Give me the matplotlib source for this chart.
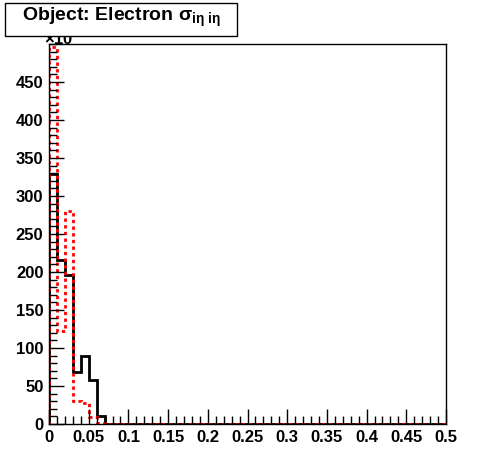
import numpy as np
import matplotlib.pyplot as plt
from matplotlib.ticker import MultipleLocator
from matplotlib.patches import Rectangle

plt.rcParams['font.family'] = ['Liberation Sans', 'DejaVu Sans']
plt.rcParams['font.weight'] = 'bold'
plt.rcParams['mathtext.fontset'] = 'custom'
plt.rcParams['mathtext.rm'] = 'Liberation Sans'
plt.rcParams['mathtext.it'] = 'Liberation Sans:italic'
plt.rcParams['mathtext.bf'] = 'Liberation Sans:bold'

# histogram contents (units of 10), 50 bins of width 0.01 on [0, 0.5]
bin_edges = np.linspace(0, 0.5, 51)
black_vals = [329, 216, 196, 68, 89, 58, 10] + [0] * 43
red_vals = [496, 122, 280, 30, 27, 9, 1] + [0] * 43

fig = plt.figure(figsize=(4.96, 4.72), dpi=100)
ax = fig.add_axes([49 / 496, 48 / 472, 397 / 496, 380 / 472])

ax.stairs(black_vals, bin_edges, color='black', lw=2)
ax.stairs(red_vals, bin_edges, color='red', lw=2, linestyle=(0, (1.2, 1.2)))

ax.set_xlim(0, 0.5)
ax.set_ylim(0, 500)

ax.xaxis.set_minor_locator(MultipleLocator(0.01))
ax.yaxis.set_minor_locator(MultipleLocator(10))
ax.set_xticks(np.arange(0, 0.501, 0.05))
ax.set_xticklabels(['0', '0.05', '0.1', '0.15', '0.2', '0.25', '0.3', '0.35', '0.4', '0.45', '0.5'])
ax.set_yticks(np.arange(0, 451, 50))
ax.tick_params(which='major', direction='in', length=11, width=1, labelsize=12, pad=4)
ax.tick_params(which='minor', direction='in', length=6, width=1)
for lab in ax.get_xticklabels() + ax.get_yticklabels():
    lab.set_fontweight('bold')
for s in ax.spines.values():
    s.set_linewidth(1)

# exponent label, its top partly hidden behind the title box like ROOT draws it
fig.text(44 / 496, 1 - 44 / 472, r'$\mathrm{\times}$' + '10', fontsize=12, fontweight='bold',
         va='baseline', ha='left', zorder=0)

# title box
fig.patches.append(Rectangle((5 / 496, 1 - 36 / 472), 232 / 496, 33 / 472,
                             transform=fig.transFigure, fill=True, facecolor='white',
                             edgecolor='black', lw=1, zorder=5))
fig.text(22 / 496, 1 - 21 / 472, r'Object: Electron $\mathrm{\sigma}_{\mathbf{i\eta\ i\eta}}$',
         fontsize=14, fontweight='bold', ha='left', va='baseline', zorder=6)

fig.savefig('out.png', dpi=100)
